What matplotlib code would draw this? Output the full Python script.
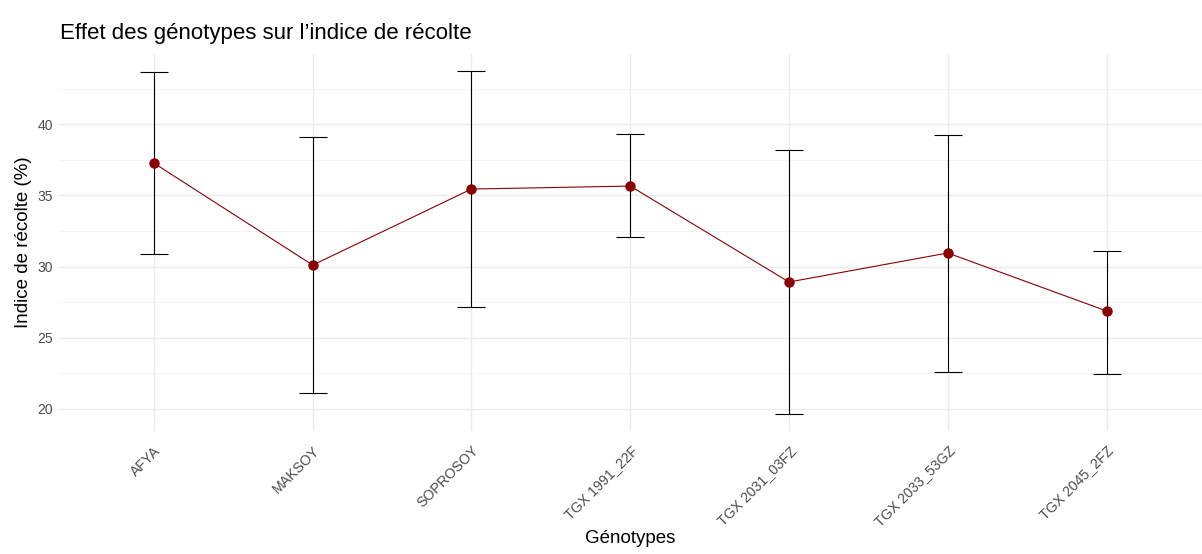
import matplotlib
matplotlib.use("Agg")
import matplotlib.pyplot as plt
from matplotlib.ticker import MultipleLocator
from matplotlib.transforms import ScaledTranslation

genotypes = ["AFYA", "MAKSOY", "SOPROSOY", "TGX 1991_22F", "TGX 2031_03FZ",
             "TGX 2033_53GZ", "TGX 2045_2FZ"]
means = [37.26, 30.10, 35.44, 35.65, 28.91, 30.95, 26.88]
upper = [43.65, 39.09, 43.72, 39.30, 38.18, 39.23, 31.09]
lower = [30.88, 21.12, 27.16, 32.07, 19.65, 22.60, 22.46]

plt.rcParams['font.family'] = ['Liberation Sans', 'DejaVu Sans']

fig = plt.figure(figsize=(12.02, 5.54), dpi=100)
ax = fig.add_axes([0.0488, 0.222, 0.951, 0.6805])

x = list(range(len(genotypes)))
yerr = [[m - l for m, l in zip(means, lower)], [u - m for m, u in zip(means, upper)]]
ax.errorbar(x, means, yerr=yerr, fmt='none', ecolor='black', elinewidth=0.8,
            capsize=10, capthick=0.8, zorder=2)
ax.plot(x, means, color='#8B0000', linewidth=0.8, zorder=3)
ax.plot(x, means, 'o', color='#8B0000', markersize=6.5, zorder=4)

lo = min(lower); hi = max(upper); r = hi - lo
ax.set_ylim(lo - 0.05 * r, hi + 0.05 * r)
ax.set_xlim(-0.6, len(genotypes) - 1 + 0.6)
ax.set_xticks(x)
ax.set_xticklabels(genotypes, rotation=45, ha='right', rotation_mode='anchor',
                   fontsize=10.2, color='#4D4D4D')
offset = ScaledTranslation(7 / 72, 0, fig.dpi_scale_trans)
for lab in ax.get_xticklabels():
    lab.set_transform(lab.get_transform() + offset)
ax.yaxis.set_major_locator(MultipleLocator(5))
ax.yaxis.set_minor_locator(MultipleLocator(2.5))
ax.tick_params(axis='y', labelsize=10, labelcolor='#4D4D4D')
ax.tick_params(axis='both', which='both', length=0, pad=4)
ax.tick_params(axis='x', pad=9)

ax.grid(True, which='major', color='#EBEBEB', linewidth=1.0, zorder=0)
ax.grid(True, which='minor', axis='y', color='#F2F2F2', linewidth=0.6, zorder=0)
ax.set_axisbelow(True)
for s in ax.spines.values():
    s.set_visible(False)

ax.set_xlabel("Génotypes", fontsize=13.5, color='black')
ax.xaxis.label.set_va('center')
ax.xaxis.set_label_coords(0.5, -0.284)
ax.set_ylabel("Indice de récolte (%)", fontsize=13.5, color='black', labelpad=4)
fig.text(0.050, 0.94, "Effet des génotypes sur l\u2019indice de récolte",
         fontsize=16, color='black', ha='left', va='center')

fig.savefig("out.png", dpi=100, facecolor='white')
